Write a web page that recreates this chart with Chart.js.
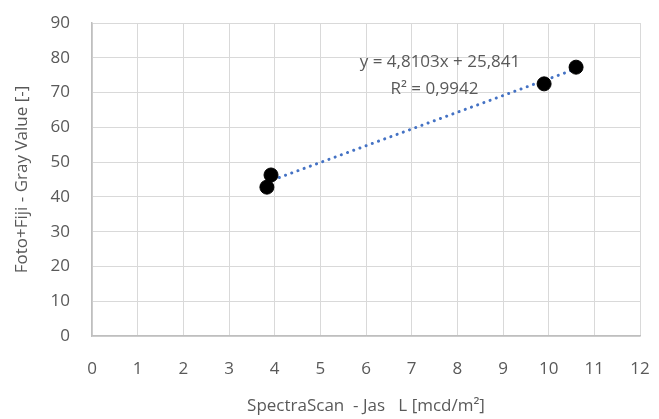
<!DOCTYPE html>
<html>
<head>
<meta charset="utf-8">
<script src="https://cdn.jsdelivr.net/npm/chart.js@4/dist/chart.umd.min.js"></script>
<style>
  html, body { margin: 0; padding: 0; background: #fff; }
  #wrap { width: 659px; height: 419px; }
</style>
</head>
<body>
<div id="wrap"><canvas id="chart" width="659" height="419"></canvas></div>
<script>
const xValues = [3.83, 3.92, 9.9, 10.6];
const yValues = [42.8, 46.3, 72.5, 77.3];

// linear trendline as shown on the chart
const trendSlope = 4.8103;
const trendIntercept = 25.841;
const trendLabels = ["y = 4,8103x + 25,841", "R² = 0,9942"];

const xTicks = [0, 1, 2, 3, 4, 5, 6, 7, 8, 9, 10, 11, 12];
const yTicks = [0, 10, 20, 30, 40, 50, 60, 70, 80, 90];

const FONT = "'Open Sans', sans-serif";
const TEXT = "#595959";
const GRID = "#d9d9d9";
const AXIS = "#bfbfbf";

const xMinData = Math.min(...xValues);
const xMaxData = Math.max(...xValues);
const trendPoints = [xMinData, xMaxData].map((x) => ({ x, y: trendSlope * x + trendIntercept }));

const trendLabelPlugin = {
  id: "trendLabel",
  afterDatasetsDraw(chart) {
    const { ctx, scales } = chart;
    ctx.save();
    ctx.fillStyle = TEXT;
    ctx.font = "17px " + FONT;
    ctx.textAlign = "center";
    ctx.textBaseline = "middle";
    ctx.fillText(trendLabels[0], scales.x.getPixelForValue(7.62), scales.y.getPixelForValue(78.8));
    ctx.fillText(trendLabels[1], scales.x.getPixelForValue(7.5), scales.y.getPixelForValue(71.0));
    ctx.restore();
  },
};

new Chart(document.getElementById("chart").getContext("2d"), {
  type: "scatter",
  data: {
    datasets: [
      {
        label: "Trend",
        type: "line",
        data: trendPoints,
        borderColor: "#4472c4",
        borderWidth: 3,
        borderDash: [0.1, 6.5],
        borderCapStyle: "round",
        pointRadius: 0,
        fill: false,
        order: 2,
      },
      {
        label: "Data",
        data: xValues.map((x, i) => ({ x, y: yValues[i] })),
        backgroundColor: "#000",
        borderColor: "#000",
        pointRadius: 7,
        order: 1,
      },
    ],
  },
  options: {
    responsive: false,
    animation: false,
    layout: { padding: { top: 23, right: 19, left: 0, bottom: 0 } },
    plugins: { legend: { display: false }, tooltip: { enabled: false } },
    scales: {
      x: {
        type: "linear",
        min: 0,
        max: 12,
        afterBuildTicks: (s) => { s.ticks = xTicks.map((v) => ({ value: v })); },
        afterFit: (s) => {
          s.height = 83;
          s.paddingLeft = 0;
          s.paddingRight = 0;
        },
        grid: { color: GRID, drawTicks: false, lineWidth: 1 },
        border: { color: AXIS, width: 1.5 },
        ticks: { color: TEXT, font: { family: FONT, size: 17 }, padding: 23 },
        title: {
          display: true,
          text: "SpectraScan  - Jas   L [mcd/m²]",
          color: TEXT,
          font: { family: FONT, size: 17 },
          padding: { top: 3, bottom: 3 },
        },
      },
      y: {
        min: 0,
        max: 90,
        afterBuildTicks: (s) => { s.ticks = yTicks.map((v) => ({ value: v })); },
        afterFit: (s) => {
          s.width = 92;
          s.paddingTop = 0;
          s.paddingBottom = 0;
        },
        grid: { color: GRID, drawTicks: false, lineWidth: 1 },
        border: { color: AXIS, width: 1.5 },
        ticks: { color: TEXT, font: { family: FONT, size: 17 }, padding: 22 },
        title: {
          display: true,
          text: "Foto+Fiji - Gray Value [-]",
          color: TEXT,
          font: { family: FONT, size: 17 },
          padding: { top: 12, bottom: 0 },
        },
      },
    },
  },
  plugins: [trendLabelPlugin],
});
</script>
</body>
</html>
